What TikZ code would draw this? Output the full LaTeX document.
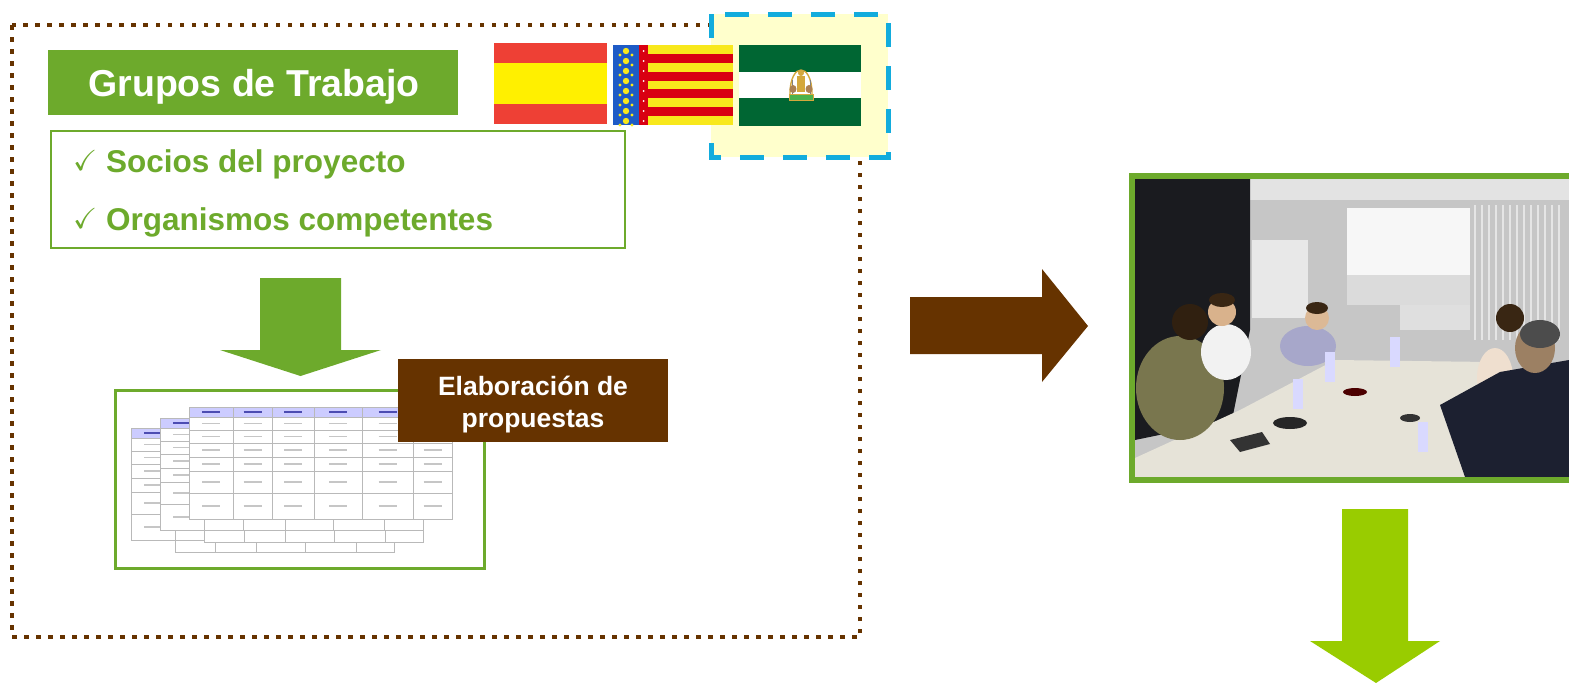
\documentclass[tikz,border=0pt]{standalone}
\usepackage{amssymb}
\usepackage{fontspec}
\setmainfont{Liberation Sans}
\definecolor{grn}{HTML}{6DAA2C}
\definecolor{brn}{HTML}{663300}
\definecolor{limec}{HTML}{99CC00}
\definecolor{sky}{HTML}{12ACDD}
\definecolor{cream}{HTML}{FFFFCC}
\definecolor{esred}{HTML}{EE4035}
\definecolor{esyel}{HTML}{FFF000}
\definecolor{vayel}{HTML}{F8E81C}
\definecolor{vared}{HTML}{D90012}
\definecolor{vablu}{HTML}{1E5BC6}
\definecolor{angrn}{HTML}{006633}
\definecolor{gold}{HTML}{D4A83C}
\definecolor{hdr}{HTML}{CCCCFF}
\definecolor{suit}{HTML}{1C2030}
\definecolor{darkroom}{HTML}{1A1B1F}
\definecolor{tablec}{HTML}{E6E3D8}
\tikzset{
  titlebox/.style={fill=grn, inner sep=0pt},
  titletext/.style={text=white, inner sep=0pt, font=\bfseries\fontsize{37.5}{45}\selectfont},
  listbox/.style={draw=grn, line width=1.6pt, fill=white, inner sep=0pt},
  listtext/.style={text=grn, inner sep=0pt, font=\bfseries\fontsize{31.5}{38}\selectfont},
  checktext/.style={text=grn, inner sep=0pt, font=\fontsize{29}{32}\selectfont},
  elabbox/.style={fill=brn, inner sep=0pt},
  elabtext/.style={text=white, inner sep=0pt, font=\bfseries\fontsize{26.5}{32}\selectfont},
  gridl/.style={draw=gray!55, line width=0.8pt},
  cellt/.style={draw=gray!45, line width=1.2pt}
}
\begin{document}
\begin{tikzpicture}[x=1pt,y=-1pt]
\useasboundingbox (0,0) rectangle (1569,683);

% dotted frame round the working groups
\draw[brn, line width=4.5pt, dash pattern=on 4.5pt off 7.5pt] (12,25) rectangle (860,637);
% dashed highlight behind the Andalusian flag
\draw[sky, line width=5pt, dash pattern=on 24pt off 19pt, fill=cream] (711,14) rectangle (888,157);

% flags
\fill[esred] (494,43) rectangle (607,124);
\fill[esyel] (494,63) rectangle (607,104);
\fill[vayel] (613,45) rectangle (733,125);
\foreach \k in {1,3,5,7}
  \fill[vared] (648,45+\k*8.889) rectangle (733,45+\k*8.889+8.889);
\fill[vablu] (613,45) rectangle (639,125);
\fill[vared] (639,45) rectangle (648,125);
\foreach \yy in {51,61,...,121} {
  \fill[vayel] (626,\yy) circle (3.2pt);
  \fill[vayel] (620,\yy+4) circle (1.6pt);
  \fill[vayel] (632,\yy+4) circle (1.6pt);
  \fill[white] (643.5,\yy) circle (1pt);
}
\fill[angrn] (739,45) rectangle (861,126);
\fill[white] (739,72) rectangle (861,98);
\draw[gold, line width=1.4pt] (790,94) .. controls (790,62) and (812,62) .. (812,94);
\draw[gray, line width=0.8pt] (792,80) -- (792,94) (810,80) -- (810,94);
\fill[gold] (797,76) rectangle (805,92);
\fill[gold] (801,73) circle (3pt);
\fill[brown!70!gray] (793,89) ellipse (3.5pt and 4pt);
\fill[brown!70!gray] (809,89) ellipse (3.5pt and 4pt);
\draw[gold, line width=1pt, fill=green!40!gray] (789,94) rectangle (813,100);

% title and list
\node[titlebox, minimum width=410pt, minimum height=65pt] (grupos) at (253,82.5) {};
\node[titletext, anchor=base] (grupostxt) at (254,96) {Grupos de Trabajo};
\node[listbox, minimum width=574pt, minimum height=117pt] (lista) at (338,189.5) {};
\node[checktext, anchor=base west] (chk1) at (73,170) {$\checkmark$};
\node[listtext, anchor=base west] (socios) at (106,172) {Socios del proyecto};
\node[checktext, anchor=base west] (chk2) at (73,228) {$\checkmark$};
\node[listtext, anchor=base west] (organismos) at (106,230) {Organismos competentes};

% green arrow down to the tables
\fill[grn] (260,278) -- (341,278) -- (341,350) -- (381,350) -- (300.5,376)
  -- (220,350) -- (260,350) -- cycle;

% stack of proposal tables
\draw[grn, line width=3pt, fill=white] (115,390) rectangle (484,568);
\foreach \sx/\sy/\ft in {131/428/1, 160/418/1, 189/407/0} {
  \begin{scope}[shift={(\sx,\sy)}]
    \fill[white] (0,0) rectangle (263,112);
    \fill[hdr] (0,0) rectangle (263,10);
    \foreach \yy in {10,23,36,50,64,86}
      \draw[gridl] (0,\yy) -- (263,\yy);
    \foreach \xx in {44,83,125,173,224}
      \draw[gridl] (\xx,0) -- (\xx,112);
    \draw[gridl] (0,0) rectangle (263,112);
    \foreach \cx in {22,63.5,104,149,198.5,243.5} {
      \draw[draw=blue!40!gray, line width=1.2pt] (\cx-9,5) -- (\cx+9,5);
      \foreach \cy in {16.5,29.5,43,57,75,99}
        \draw[cellt] (\cx-9,\cy) -- (\cx+9,\cy);
    }
    \ifnum\ft=1
      \fill[white] (44,112) rectangle (263,124);
      \foreach \xx in {84,125,174,225}
        \draw[gridl] (\xx,112) -- (\xx,124);
      \draw[gridl] (44,112) rectangle (263,124);
    \fi
  \end{scope}
}
\node[elabbox, minimum width=270pt, minimum height=83pt] (elab) at (533,400.5) {};
\node[elabtext, anchor=base] (elab1) at (533,395) {Elaboraci\'on de};
\node[elabtext, anchor=base] (elab2) at (533,427) {propuestas};

% brown arrow to the meeting photo
\fill[brn] (910,297) -- (1042,297) -- (1042,269) -- (1088,326) -- (1042,382)
  -- (1042,354) -- (910,354) -- cycle;

% meeting photo
\begin{scope}
  \clip (1135,179) rectangle (1569,477);
  \fill[gray!45!white] (1135,179) rectangle (1569,477);
  \fill[gray!22] (1250,179) rectangle (1569,200);
  \foreach \bx in {1475,1482,...,1565}
    \draw[white!80!gray, line width=1.2pt] (\bx,205) -- (\bx,340);
  \fill[darkroom] (1135,179) -- (1250,179) -- (1250,330) -- (1232,420)
    -- (1135,440) -- cycle;
  \fill[gray!18] (1252,240) rectangle (1308,318);
  \fill[gray!6] (1347,208) rectangle (1470,275);
  \fill[gray!28] (1347,275) rectangle (1470,305);
  \fill[gray!25!white] (1400,305) rectangle (1470,330);
  % table
  \fill[tablec] (1135,458) -- (1240,410) -- (1335,360) -- (1490,362)
    -- (1478,477) -- (1135,477) -- cycle;
  % people on the left
  \fill[olive!45!gray!80!black] (1180,388) ellipse (44pt and 52pt);
  \fill[black!75!brown] (1190,322) circle (18pt);
  \fill[gray!10] (1226,352) ellipse (25pt and 28pt);
  \fill[brown!60!white] (1222,312) circle (14pt);
  \fill[black!70!brown] (1222,300) ellipse (13pt and 7pt);
  \fill[blue!25!gray!55!white] (1308,346) ellipse (28pt and 20pt);
  \fill[brown!55!white] (1317,318) circle (12pt);
  \fill[black!70!brown] (1317,308) ellipse (11pt and 6pt);
  % people on the right
  \fill[brown!25!white] (1495,378) ellipse (18pt and 30pt);
  \fill[black!70!brown] (1510,318) circle (14pt);
  \fill[suit] (1440,405) -- (1500,372) -- (1569,360) -- (1569,477)
    -- (1465,477) -- cycle;
  \fill[brown!45!gray] (1535,348) ellipse (20pt and 25pt);
  \fill[black!70] (1540,334) ellipse (20pt and 14pt);
  % things on the table
  \fill[black!85] (1290,423) ellipse (17pt and 6pt);
  \fill[black!80] (1230,440) -- (1262,432) -- (1270,444) -- (1240,452) -- cycle;
  \fill[black!70!red] (1355,392) ellipse (12pt and 4pt);
  \fill[black!80] (1410,418) ellipse (10pt and 4pt);
  \foreach \px/\py in {1423/440, 1298/397, 1395/355, 1330/370}
    \fill[white!85!blue] (\px-5,\py-18) rectangle (\px+5,\py+12);
\end{scope}
\draw[grn, line width=6pt] (1132,176) rectangle (1575,480);

% lime arrow down
\fill[limec] (1342,509) -- (1408,509) -- (1408,641) -- (1440,641) -- (1376,683)
  -- (1310,641) -- (1342,641) -- cycle;
\end{tikzpicture}
\end{document}
